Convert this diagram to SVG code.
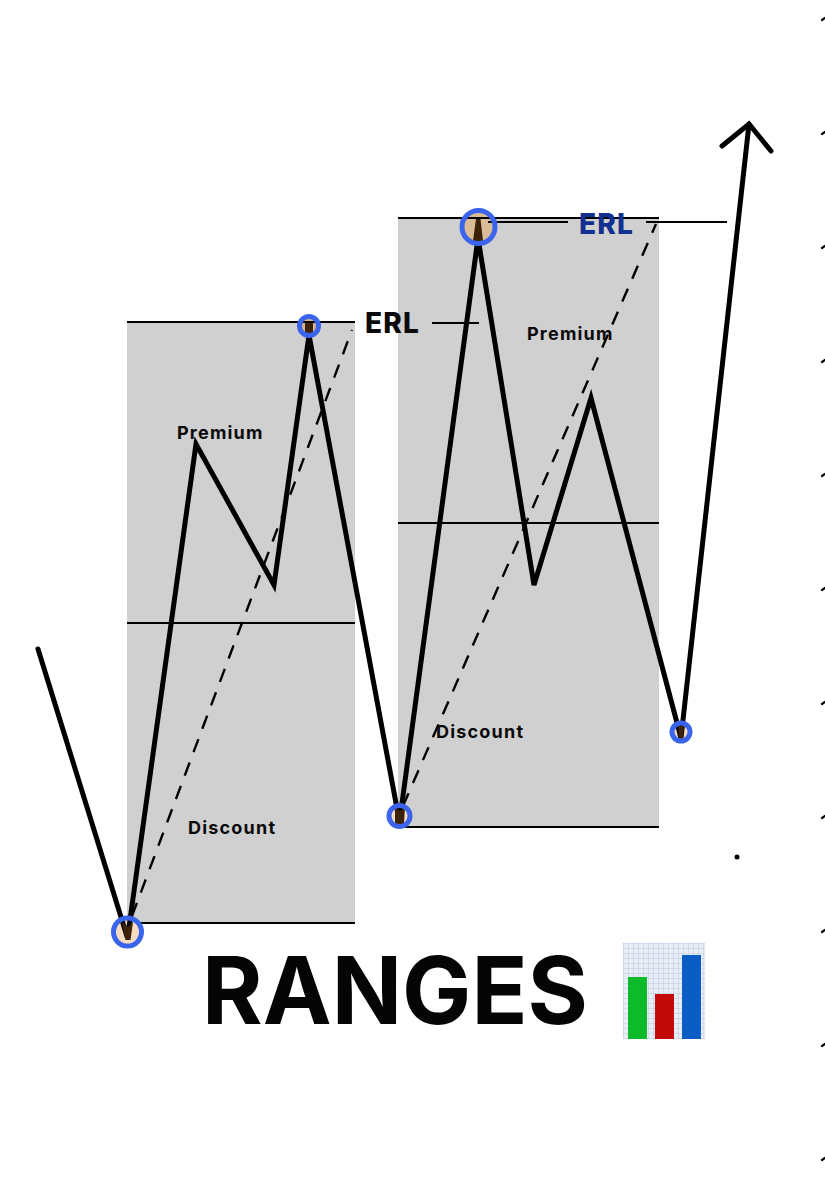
<svg xmlns="http://www.w3.org/2000/svg" width="825" height="1200" viewBox="0 0 825 1200">
<style>
.box{fill:#d0d0d0}
.ln{stroke:#000;stroke-width:2.2;fill:none}
.pr{stroke:#000;stroke-width:5;fill:none;stroke-linejoin:miter;stroke-linecap:round}
.ds{stroke:#000;stroke-width:2.4;fill:none;stroke-dasharray:14 11}
.halo{fill:#f6dcc0}
.ring{stroke:#3a64ec;fill:none;stroke-width:5}
.wedge{fill:#3c2208}
.lab{font-family:"Inter","Liberation Sans",sans-serif;font-weight:700;font-size:18px;fill:#0a0a0a;letter-spacing:1.2px}
.erl{font-family:"Inter","Liberation Sans",sans-serif;font-weight:800;font-size:28px;letter-spacing:1.2px}
.tick{stroke:#000;stroke-width:2.2;stroke-linecap:round}
</style>
<defs>
<pattern id="grid" width="5" height="5" patternUnits="userSpaceOnUse" x="623" y="943">
<rect width="5" height="5" fill="#e9edf5"/>
<path d="M0 0H5M0 0V5" stroke="#bccae2" stroke-width="1"/>
</pattern>
</defs>
<rect width="825" height="1200" fill="#fff"/>
<g id="range-left">
<rect class="box" x="127" y="322" width="228" height="601"/>
<path class="ln" d="M127 623H355M127 923H355"/>
</g>
<g id="range-right">
<rect class="box" x="398" y="218" width="261" height="609"/>
<path class="ln" d="M398 523H659M398 827H659"/>
</g>
<g id="connectors">
<circle class="halo" cx="127.500" cy="932" r="14"/>
<circle cx="309" cy="326" r="9.500" fill="#d9b68c"/>
<circle class="halo" cx="399.500" cy="816" r="10.500"/>
<circle cx="478.500" cy="227" r="17" fill="#dcbc96"/>
<circle class="halo" cx="681" cy="732" r="9"/>
<path class="ln" d="M127 322H355M398 218H659"/>
<path class="ds" d="M132 916L352 330"/>
<path class="ds" d="M403 806L656 224"/>
<path class="ln" d="M488 222H568M646 222H727"/>
<path class="ln" d="M432 323H479"/>
<path class="pr" d="M38 649L127.500 938L196 444L274 585L309 335L399.500 822L478 238L534 585L591 398L681 738L749 124"/>
<path class="pr" d="M722 146L749 124L771 151"/>
<polygon class="wedge" points="122,922 128,927 133,922 130.500,940 125.500,940"/>
<polygon class="wedge" points="305,323 313,323 313,333 305,333"/>
<polygon class="wedge" points="395,807 400,811 405,807 404,824 395,824"/>
<polygon class="wedge" points="476,219 480.500,219 483,241 473,241"/>
<polygon class="wedge" points="678,726 684,726 682.500,740 679.500,740"/>
<circle class="ring" cx="127.500" cy="932" r="14"/>
<circle class="ring" cx="309" cy="326" r="9.500"/>
<circle class="ring" cx="399.500" cy="816" r="10.500"/>
<circle class="ring" cx="478.500" cy="227" r="16.500"/>
<circle class="ring" cx="681" cy="732" r="9"/>
</g>
<g id="labels">
<text class="lab" x="177" y="438.500">Premium</text>
<text class="lab" x="527" y="339.500">Premium</text>
<text class="lab" x="188" y="833.500">Discount</text>
<text class="lab" x="436" y="738">Discount</text>
<text class="erl" x="365" y="333" fill="#0a0a0a">ERL</text>
<text class="erl" x="579" y="233.500" fill="#12308f">ERL</text>
<text x="202" y="1024" font-family="Inter,'Liberation Sans',sans-serif" font-weight="700" font-size="94" textLength="386" lengthAdjust="spacingAndGlyphs" fill="#050505">RANGES</text>
</g>
<g id="chart-icon">
<rect x="623" y="943" width="82" height="96" fill="url(#grid)"/>
<rect x="628" y="977" width="19" height="62" fill="#0cbb2a"/>
<rect x="655" y="994" width="19" height="45" fill="#c20a0a"/>
<rect x="682" y="955" width="19" height="84" fill="#0b5cc4"/>
</g>
<circle id="dot" cx="737" cy="857" r="2.500" fill="#000"/>
<g id="edge-ticks">
<path class="tick" d="M822 20L825 18M822 134L825 132M822 248L825 246M822 362L825 360M822 476L825 474M822 590L825 588M822 704L825 702M822 818L825 816M822 932L825 930M822 1046L825 1044M822 1160L825 1158"/>
</g>
</svg>
